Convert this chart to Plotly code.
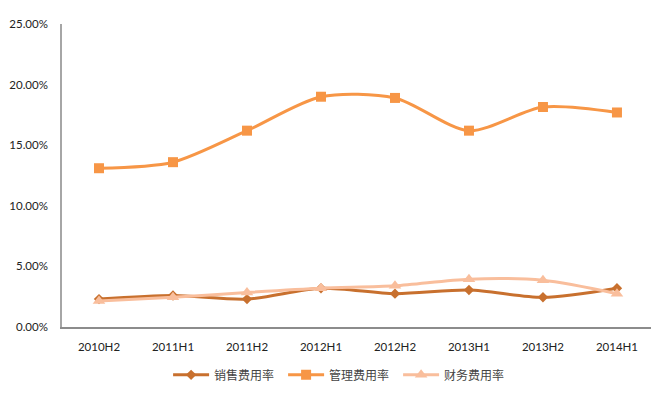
import plotly.graph_objects as go

categories = ["2010H2", "2011H1", "2011H2", "2012H1", "2012H2", "2013H1", "2013H2", "2014H1"]
sales_rate = [2.30, 2.60, 2.30, 3.20, 2.75, 3.05, 2.45, 3.20]      # 销售费用率 (%)
admin_rate = [13.10, 13.60, 16.20, 19.00, 18.90, 16.20, 18.15, 17.70]  # 管理费用率 (%)
fin_rate = [2.15, 2.45, 2.85, 3.20, 3.40, 3.95, 3.85, 2.75]        # 财务费用率 (%)
y_ticks = [0, 0.05, 0.10, 0.15, 0.20, 0.25]

series = [
    ("销售费用率", sales_rate, "#C8702E", "diamond", 8),
    ("管理费用率", admin_rate, "#F79646", "square", 10),
    ("财务费用率", fin_rate, "#F9BE9C", "triangle-up", 11),
]

fig = go.Figure()
for name, vals, color, sym, size in series:
    fig.add_trace(go.Scatter(
        x=list(range(len(categories))),
        y=[v / 100 for v in vals],
        name=name,
        mode="lines+markers",
        line=dict(color=color, width=3, shape="spline", smoothing=0.8),
        marker=dict(symbol=sym, size=size, color=color),
    ))

fig.update_layout(
    width=651, height=405,
    margin=dict(l=62, r=0, t=24, b=78, autoexpand=False),
    paper_bgcolor="white", plot_bgcolor="white",
    font=dict(family="Lato, 'Noto Sans CJK SC', sans-serif", size=11, color="#333333"),
    showlegend=True,
    legend=dict(
        orientation="h", x=0.473, xanchor="center", y=-0.158, yanchor="middle",
        font=dict(family="'Noto Sans CJK SC', sans-serif", size=12, color="#444444"),
        itemwidth=36, entrywidth=64,
    ),
)
fig.update_xaxes(
    tickmode="array", tickvals=list(range(len(categories))), ticktext=categories,
    range=[-0.5, 7.46], showgrid=False, zeroline=False, automargin=False,
    showline=True, linecolor="#8c8c8c", linewidth=1.5, ticks="",
    ticklabelstandoff=8,
    tickfont=dict(family="Lato, sans-serif", size=11.5, color="#222222"),
)
fig.update_yaxes(
    range=[0, 0.25], tickvals=y_ticks, tickformat=".2%",
    showgrid=False, zeroline=False, automargin=False,
    showline=True, linecolor="#a6a6a6", linewidth=1.5, ticks="",
    ticklabelstandoff=10,
    tickfont=dict(family="Lato, sans-serif", size=11.5, color="#222222"),
)
fig.write_html("out.html", config={"displayModeBar": False},
               post_script="document.body.style.margin='0';")
